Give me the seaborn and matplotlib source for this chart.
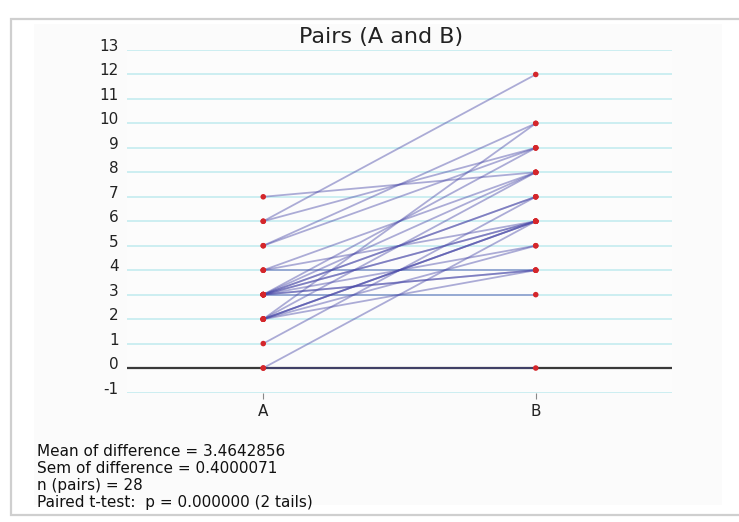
import matplotlib
matplotlib.use("Agg")
import matplotlib.pyplot as plt
import matplotlib.transforms as mtransforms
from matplotlib.patches import Rectangle
import numpy as np
import pandas as pd
import seaborn as sns

# ---- data ----
conditions = ["A", "B"]
values_a = [7, 6, 6, 5, 5, 4, 4, 4, 3, 3, 3, 3, 3, 3, 2, 2, 2, 3, 2, 2, 3, 2, 1, 0, 0, 3, 2, 3]
values_b = [8, 12, 9, 10, 9, 8, 4, 6, 3, 7, 6, 4, 8, 5, 6, 6, 5, 7, 6, 8, 9, 10, 7, 6, 0, 6, 4, 4]
y_ticks = list(range(-1, 14))
title_text = "Pairs (A and B)"
stats_lines = [
    "Mean of difference = 3.4642856",
    "Sem of difference = 0.4000071",
    "n (pairs) = 28",
    "Paired t-test:  p = 0.000000 (2 tails)",
]

n = len(values_a)
df = pd.DataFrame({
    "pair": list(range(n)) * 2,
    "cond": [0] * n + [1] * n,
    "value": values_a + values_b,
})

sns.set_theme(style="white")
plt.rcParams["font.family"] = ["DejaVu Sans"]

W, H = 739, 522
fig = plt.figure(figsize=(W / 100, H / 100), dpi=100)
fig.patch.set_facecolor("white")

# card frame
card = Rectangle((11 / W, 1 - 515 / H), (W + 20) / W, (515 - 19) / H,
                 transform=fig.transFigure, facecolor="white",
                 edgecolor="#cfcfcf", linewidth=1.6, zorder=-10)
fig.patches.append(card)
panel = Rectangle((34 / W, 1 - 505 / H), (722 - 34) / W, (505 - 24) / H,
                  transform=fig.transFigure, facecolor="#fbfbfb",
                  edgecolor="none", zorder=-9)
fig.patches.append(panel)

left, right, top, bottom = 127, 672, 50, 392.5
ax = fig.add_axes([left / W, 1 - bottom / H, (right - left) / W, (bottom - top) / H])
ax.set_zorder(5)
ax.set_facecolor("#fcfcfc")

ax.set_xlim(-0.5, 1.5)
ax.set_ylim(-1, 13)

for y in y_ticks:
    if y == 0:
        continue
    ax.axhline(y, color="#c4ecef", linewidth=1.2, zorder=1)
ax.axhline(0, color="#3a3a3a", linewidth=1.6, zorder=2)

sns.lineplot(data=df, x="cond", y="value", units="pair", estimator=None,
             color="#4a4aa8", alpha=0.45, linewidth=1.3, ax=ax, zorder=3,
             legend=False)
sns.scatterplot(data=df, x="cond", y="value", color="#d4262b", s=16,
                marker="o", edgecolor="none", ax=ax, zorder=4, legend=False)

for s in ax.spines.values():
    s.set_visible(False)

ax.set_xticks([0, 1])
ax.set_xticklabels(conditions, fontsize=11, color="#222222")
ax.tick_params(axis="x", length=4, width=0.8, color="#888888", pad=4, bottom=True)
ax.set_yticks(y_ticks)
ax.set_yticklabels([str(v) for v in y_ticks], fontsize=11, color="#222222")
ax.tick_params(axis="y", length=0, pad=6)
offset = mtransforms.ScaledTranslation(0, 5 / 100, fig.dpi_scale_trans)
for lab in ax.get_yticklabels():
    lab.set_transform(lab.get_transform() + offset)
ax.set_xlabel("")
ax.set_ylabel("")
ax.grid(False)

fig.text(381 / W, 1 - 37 / H, title_text, ha="center", va="center",
         fontsize=16, color="#222222")

for i, line in enumerate(stats_lines):
    fig.text(37 / W, 1 - (451 + 17.3 * i) / H, line, ha="left", va="center",
             fontsize=11, color="#111111")

fig.savefig("out.png", dpi=100)
